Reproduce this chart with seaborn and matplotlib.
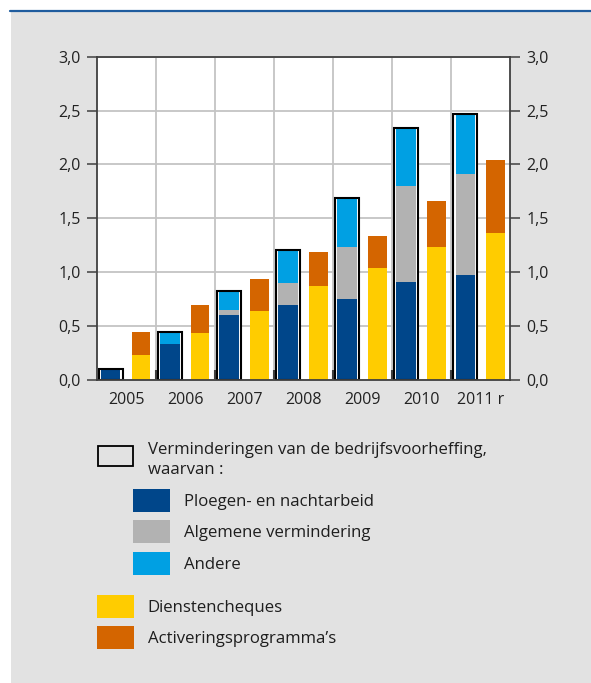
import numpy as np
import matplotlib
matplotlib.use("Agg")
import matplotlib.pyplot as plt
from matplotlib.patches import Rectangle
from matplotlib.lines import Line2D
import seaborn as sns

# --- data (billion EUR) ---
years = ["2005", "2006", "2007", "2008", "2009", "2010", "2011 r"]
ploegen = [0.10, 0.33, 0.60, 0.70, 0.75, 0.91, 0.97]
algemene = [0.00, 0.00, 0.05, 0.20, 0.48, 0.89, 0.94]
andere = [0.00, 0.12, 0.18, 0.31, 0.46, 0.54, 0.56]
dienstencheques = [0.23, 0.44, 0.64, 0.87, 1.04, 1.23, 1.36]
activering = [0.22, 0.26, 0.30, 0.32, 0.30, 0.43, 0.68]

y_ticks = [0.0, 0.5, 1.0, 1.5, 2.0, 2.5, 3.0]
y_tick_labels = ["0,0", "0,5", "1,0", "1,5", "2,0", "2,5", "3,0"]

label_total = ["Verminderingen van de bedrijfsvoorheffing,", "waarvan :"]
label_ploegen = "Ploegen- en nachtarbeid"
label_algemene = "Algemene vermindering"
label_andere = "Andere"
label_dienst = "Dienstencheques"
label_activering = "Activeringsprogramma\u2019s"

# --- colours ---
C_DARK = "#00468a"
C_GREY = "#b2b2b2"
C_LIGHT = "#00a0e3"
C_YELLOW = "#ffcc00"
C_ORANGE = "#d46500"
C_BG = "#e2e2e2"
C_RULE = "#1f5c9e"
C_AXIS = "#404040"
C_GRID = "#c4c4c4"

sns.set_theme(style="white")
plt.rcParams["font.family"] = ["Open Sans", "DejaVu Sans"]

W, H = 591, 683
fig = plt.figure(figsize=(W / 100, H / 100), dpi=100)
fig.patch.set_facecolor("white")


def fx(px):
    return px / W


def fy(py):
    return 1 - py / H


# grey panel with a blue rule on top
fig.add_artist(Rectangle((fx(11), 0), 1 - fx(11), fy(12), transform=fig.transFigure,
                         facecolor=C_BG, edgecolor="none", zorder=0))
fig.add_artist(Line2D([fx(10), 1], [fy(11), fy(11)], transform=fig.transFigure,
                      color=C_RULE, lw=1.6, zorder=1))

ax = fig.add_axes([fx(96.7), fy(380), fx(510) - fx(96.7), fy(56.7) - fy(380)])
ax.set_facecolor("white")

idx = np.arange(len(years))
pos_box = idx - 0.26
pos_right = idx + 0.255

ploeg_arr = np.array(ploegen)
alg_arr = np.array(algemene)
and_arr = np.array(andere)
totals = ploeg_arr + alg_arr + and_arr
dien_arr = np.array(dienstencheques)
act_arr = np.array(activering)

common = dict(native_scale=True, errorbar=None, saturation=1, ax=ax)

# white background of the outlined bars
sns.barplot(x=pos_box, y=totals, width=0.42, color="white", linewidth=0, **common)
# stacked components (drawn as cumulative bars, tallest first)
sns.barplot(x=pos_box, y=totals, width=0.325, color=C_LIGHT, linewidth=0, **common)
sns.barplot(x=pos_box, y=ploeg_arr + alg_arr, width=0.325, color=C_GREY, linewidth=0, **common)
sns.barplot(x=pos_box, y=ploeg_arr, width=0.325, color=C_DARK, linewidth=0, **common)
# outline of the total
sns.barplot(x=pos_box, y=totals, width=0.40, color="black", fill=False, linewidth=1.5, **common)

# service vouchers + activation programmes
sns.barplot(x=pos_right, y=dien_arr + act_arr, width=0.31, color=C_ORANGE, linewidth=0, **common)
sns.barplot(x=pos_right, y=dien_arr, width=0.31, color=C_YELLOW, linewidth=0, **common)

ax.set_xlim(-0.5, len(years) - 0.5)
ax.set_ylim(0, 3.0)
ax.set_xlabel("")
ax.set_ylabel("")

ax.set_xticks(idx)
ax.set_xticklabels(years)
ax.set_xticks(idx[:-1] + 0.5, minor=True)
ax.set_yticks(y_ticks)
ax.set_yticklabels(y_tick_labels)

ax.tick_params(axis="x", which="major", length=0, pad=8.5, labelsize=11.5, labelcolor="#222222")
ax.tick_params(axis="x", which="minor", direction="in", length=7, width=1.5, color=C_AXIS,
               bottom=True)
ax.tick_params(axis="y", which="major", left=True, right=True, labelleft=True, labelright=True,
               direction="out", length=7.2, width=1.1, color=C_AXIS, pad=4.5,
               labelsize=11.5, labelcolor="#222222")

ax.set_axisbelow(True)
ax.grid(False)
ax.grid(True, which="minor", axis="x", color=C_GRID, lw=1.3)
ax.grid(True, which="major", axis="y", color=C_GRID, lw=1.3)

for side in ["left", "right", "bottom", "top"]:
    ax.spines[side].set_visible(True)
    ax.spines[side].set_color(C_AXIS)
    ax.spines[side].set_linewidth(1.3)

# --- legend ---
FS = 12.1
TXT = "#1e1e1e"


def swatch(x0, y0, x1, y1, color):
    fig.add_artist(Rectangle((fx(x0), fy(y1)), fx(x1) - fx(x0), fy(y0) - fy(y1),
                             transform=fig.transFigure, facecolor=color,
                             edgecolor="none", zorder=3))


fig.add_artist(Rectangle((fx(97.6), fy(465.8)), fx(133.1) - fx(97.6), fy(445.9) - fy(465.8),
                         transform=fig.transFigure, facecolor="none",
                         edgecolor="black", lw=1.3, zorder=3))
fig.text(fx(147.7), fy(453.5), label_total[0], fontsize=FS, color=TXT, va="baseline")
fig.text(fx(147.7), fy(474.5), label_total[1], fontsize=FS, color=TXT, va="baseline")

rows = [
    (133.3, 170, 489.3, 511.7, C_DARK, 184.3, label_ploegen),
    (133.3, 170, 520.0, 542.7, C_GREY, 184.3, label_algemene),
    (133.3, 170, 552.0, 574.7, C_LIGHT, 184.3, label_andere),
    (97.3, 134, 595.0, 617.7, C_YELLOW, 147.7, label_dienst),
    (97.3, 134, 626.0, 648.7, C_ORANGE, 147.7, label_activering),
]
for x0, x1, y0, y1, col, tx, lab in rows:
    swatch(x0, y0, x1, y1, col)
    fig.text(fx(tx), fy((y0 + y1) / 2 + 5.8), lab, fontsize=FS, color=TXT, va="baseline")

fig.savefig("out.png", dpi=100, facecolor=fig.get_facecolor())
